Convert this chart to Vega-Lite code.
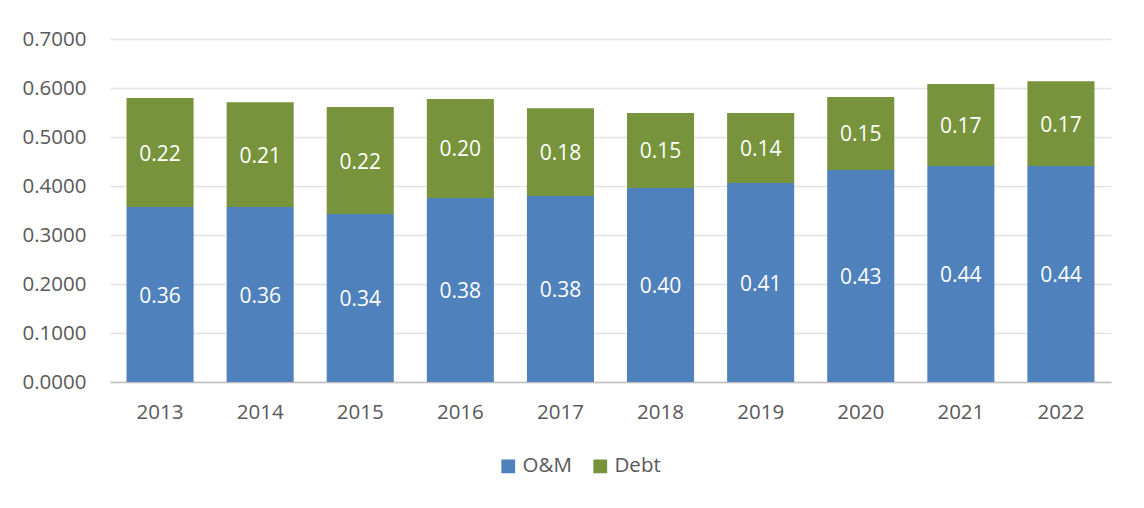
{
  "$schema": "https://vega.github.io/schema/vega-lite/v6.json",
  "width": 1001,
  "height": 343,
  "autosize": {"type": "none"},
  "padding": {"left": 110, "top": 39, "right": 33, "bottom": 126},
  "background": "white",
  "config": {
    "font": "Open Sans",
    "view": {"stroke": null},
    "axis": {"labelFont": "Open Sans", "labelColor": "#595959", "labelFontSize": 20.5, "ticks": false, "title": null}
  },
  "data": {
    "values": [
      {"year": "2013", "series": "O&M", "value": 0.357},
      {"year": "2013", "series": "Debt", "value": 0.2227},
      {"year": "2014", "series": "O&M", "value": 0.357},
      {"year": "2014", "series": "Debt", "value": 0.214},
      {"year": "2015", "series": "O&M", "value": 0.343},
      {"year": "2015", "series": "Debt", "value": 0.218},
      {"year": "2016", "series": "O&M", "value": 0.3755},
      {"year": "2016", "series": "Debt", "value": 0.2021},
      {"year": "2017", "series": "O&M", "value": 0.3796},
      {"year": "2017", "series": "Debt", "value": 0.179},
      {"year": "2018", "series": "O&M", "value": 0.396},
      {"year": "2018", "series": "Debt", "value": 0.153},
      {"year": "2019", "series": "O&M", "value": 0.406},
      {"year": "2019", "series": "Debt", "value": 0.143},
      {"year": "2020", "series": "O&M", "value": 0.4327},
      {"year": "2020", "series": "Debt", "value": 0.149},
      {"year": "2021", "series": "O&M", "value": 0.441},
      {"year": "2021", "series": "Debt", "value": 0.167},
      {"year": "2022", "series": "O&M", "value": 0.441},
      {"year": "2022", "series": "Debt", "value": 0.173}
    ]
  },
  "transform": [
    {"calculate": "datum.series === 'O&M' ? 0 : 1", "as": "ord"},
    {"stack": "value", "groupby": ["year"], "sort": [{"field": "ord", "order": "ascending"}], "as": ["v0", "v1"]},
    {"calculate": "(datum.v0 + datum.v1) / 2", "as": "mid"}
  ],
  "encoding": {
    "x": {
      "field": "year", "type": "ordinal",
      "scale": {"paddingInner": 0.33, "paddingOuter": 0.165},
      "axis": {"labelAngle": 0, "labelPadding": 20, "domainColor": "#BFBFBF", "domainWidth": 1.5, "grid": false}
    }
  },
  "layer": [
    {
      "mark": {"type": "bar"},
      "encoding": {
        "y": {
          "field": "v1", "type": "quantitative",
          "scale": {"domain": [0, 0.7], "nice": false},
          "axis": {"values": [0, 0.1, 0.2, 0.3, 0.4, 0.5, 0.6, 0.7], "format": ".4f", "domain": false, "gridColor": "#E3E3E3", "gridWidth": 1.5, "labelPadding": 24}
        },
        "y2": {"field": "v0"},
        "color": {
          "field": "series", "type": "nominal",
          "scale": {"domain": ["O&M", "Debt"], "range": ["#4F81BD", "#77933C"]},
          "legend": {
            "orient": "none", "legendX": 388, "legendY": 417, "direction": "horizontal", "title": null,
            "symbolType": "square", "symbolSize": 190, "symbolStrokeWidth": 0, "symbolOpacity": 1,
            "labelFontSize": 20.5, "labelColor": "#595959", "labelFont": "Open Sans",
            "columnPadding": 18, "labelOffset": 4
          }
        }
      }
    },
    {
      "mark": {"type": "text", "color": "white", "fontSize": 21, "font": "Open Sans", "baseline": "middle", "dy": 2},
      "encoding": {
        "y": {"field": "mid", "type": "quantitative"},
        "text": {"field": "value", "type": "quantitative", "format": ".2f"}
      }
    }
  ]
}
